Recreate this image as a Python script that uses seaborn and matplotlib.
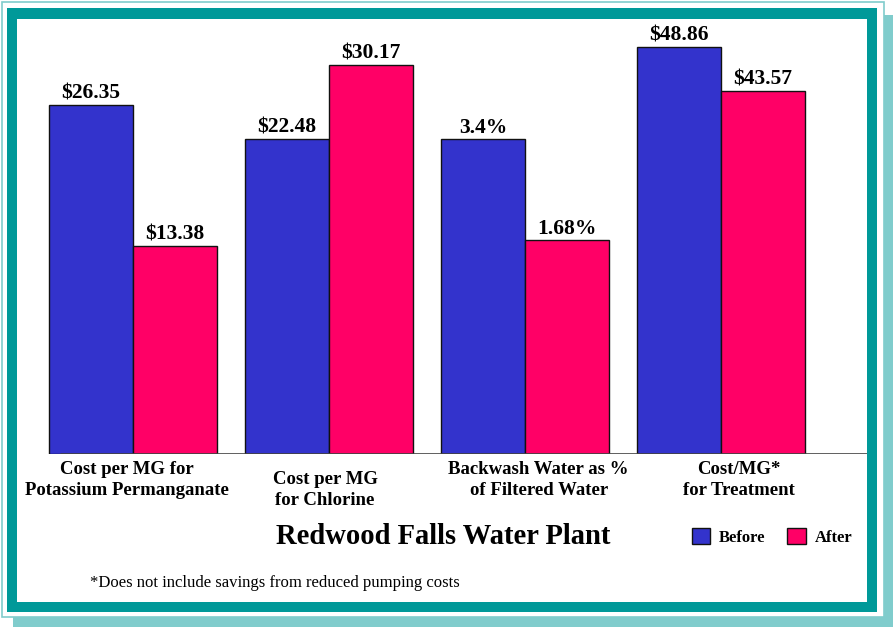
import matplotlib
matplotlib.use("Agg")
import matplotlib.pyplot as plt
from matplotlib.patches import Rectangle, Patch
import seaborn as sns
import pandas as pd

# ---- data ----
categories = ["Cost per MG for\nPotassium Permanganate",
              "Cost per MG\nfor Chlorine",
              "Backwash Water as %\nof Filtered Water",
              "Cost/MG*\nfor Treatment"]
periods = ["Before", "After"]
# displayed bar heights (chart uses its own, non-proportional scale)
before_heights = [349, 315, 315, 407]
after_heights = [208, 389, 214, 363]
before_labels = ["$26.35", "$22.48", "3.4%", "$48.86"]
after_labels = ["$13.38", "$30.17", "1.68%", "$43.57"]
title = "Redwood Falls Water Plant"
footnote = "*Does not include savings from reduced pumping costs"

rows = []
for i, c in enumerate(categories):
    rows.append({"category": c, "period": "Before", "height": before_heights[i], "label": before_labels[i]})
    rows.append({"category": c, "period": "After", "height": after_heights[i], "label": after_labels[i]})
df = pd.DataFrame(rows)

sns.set_theme(style="white")
plt.rcParams["font.family"] = ["Liberation Serif", "DejaVu Serif"]
plt.rcParams["mathtext.default"] = "regular"
plt.rcParams["text.color"] = "black"

W, H = 893, 627
fig = plt.figure(figsize=(W / 100, H / 100), dpi=100, facecolor="white")

def rect(x0, y0, x1, y1, **kw):
    r = Rectangle((x0 / W, 1 - y1 / H), (x1 - x0) / W, (y1 - y0) / H,
                  transform=fig.transFigure, **kw)
    fig.patches.append(r)

light = "#80CCCC"
teal = "#009999"
rect(13, 15, 893, 627, facecolor=light, edgecolor="none", zorder=0)
rect(2, 2, 884, 617, facecolor="white", edgecolor=light, linewidth=1.2, zorder=1)
rect(7, 8, 877, 612, facecolor=teal, edgecolor="none", zorder=2)
rect(17, 19, 867, 602, facecolor="white", edgecolor="none", zorder=3)

# axes
ax_l, ax_r, ax_t, ax_b = 48, 867, 19, 454
ax = fig.add_axes([ax_l / W, 1 - ax_b / H, (ax_r - ax_l) / W, (ax_b - ax_t) / H])
ax.patch.set_alpha(0)
ax.set_zorder(5)

colors = {"Before": "#3333CC", "After": "#FF0066"}
sns.barplot(data=df, x="category", y="height", hue="period", hue_order=periods,
            order=categories, palette=colors, width=0.86, edgecolor="#111111",
            linewidth=1.0, saturation=1, errorbar=None, legend=False, ax=ax)

spacing = 196.0
xl = (ax_l - 133) / spacing
xr = (ax_r - 133) / spacing
ax.set_xlim(xl, xr)
ax.set_ylim(0, ax_b - ax_t)
for s in ax.spines.values():
    s.set_visible(False)
ax.set_xticks([])
ax.set_yticks([])
ax.set_xlabel("")
ax.set_ylabel("")
ax.axhline(0, xmin=(61 - ax_l) / (ax_r - ax_l), xmax=1, color="#444444", lw=1.2, zorder=6)

# value labels
for container, labels in zip(ax.containers, [before_labels, after_labels]):
    for bar, lab in zip(container, labels):
        ax.annotate(lab.replace("$", r"\$"), (bar.get_x() + bar.get_width() / 2, bar.get_height()),
                    xytext=(0, 4.5), textcoords="offset points", ha="center", va="baseline",
                    fontsize=15.5, fontweight="bold", color="black")

# category labels
label_dx = [-0.03, -0.02, 0.07, 0.09]
label_dy = [0, -10, 0, 0]
for i, c in enumerate(categories):
    ax.annotate(c, (i + label_dx[i], 0), xytext=(0, -5 + label_dy[i] * 0.72),
                textcoords="offset points", ha="center", va="top",
                multialignment="center", fontsize=13.5, fontweight="bold",
                linespacing=1.35, annotation_clip=False, color="black")

fig.text(443 / W, 1 - 537 / H, title, ha="center", va="center",
         fontsize=20.6, fontweight="bold", zorder=10, color="black")
fig.text(90 / W, 1 - 583 / H, footnote, ha="left", va="center", fontsize=12,
         zorder=10, color="black")

handles = [Patch(facecolor=colors[p], edgecolor="#111111", linewidth=1.0) for p in periods]
leg = fig.legend(handles, periods, ncol=2, frameon=False, loc="center",
                 bbox_to_anchor=(772 / W, 1 - 537 / H), bbox_transform=fig.transFigure,
                 prop={"family": "Liberation Serif", "weight": "bold", "size": 12},
                 handlelength=1.1, handleheight=1.1, handletextpad=0.55,
                 columnspacing=1.3, borderpad=0)
for t in leg.get_texts():
    t.set_color("black")
leg.set_zorder(10)

fig.savefig("out.png", dpi=100, facecolor="white")
